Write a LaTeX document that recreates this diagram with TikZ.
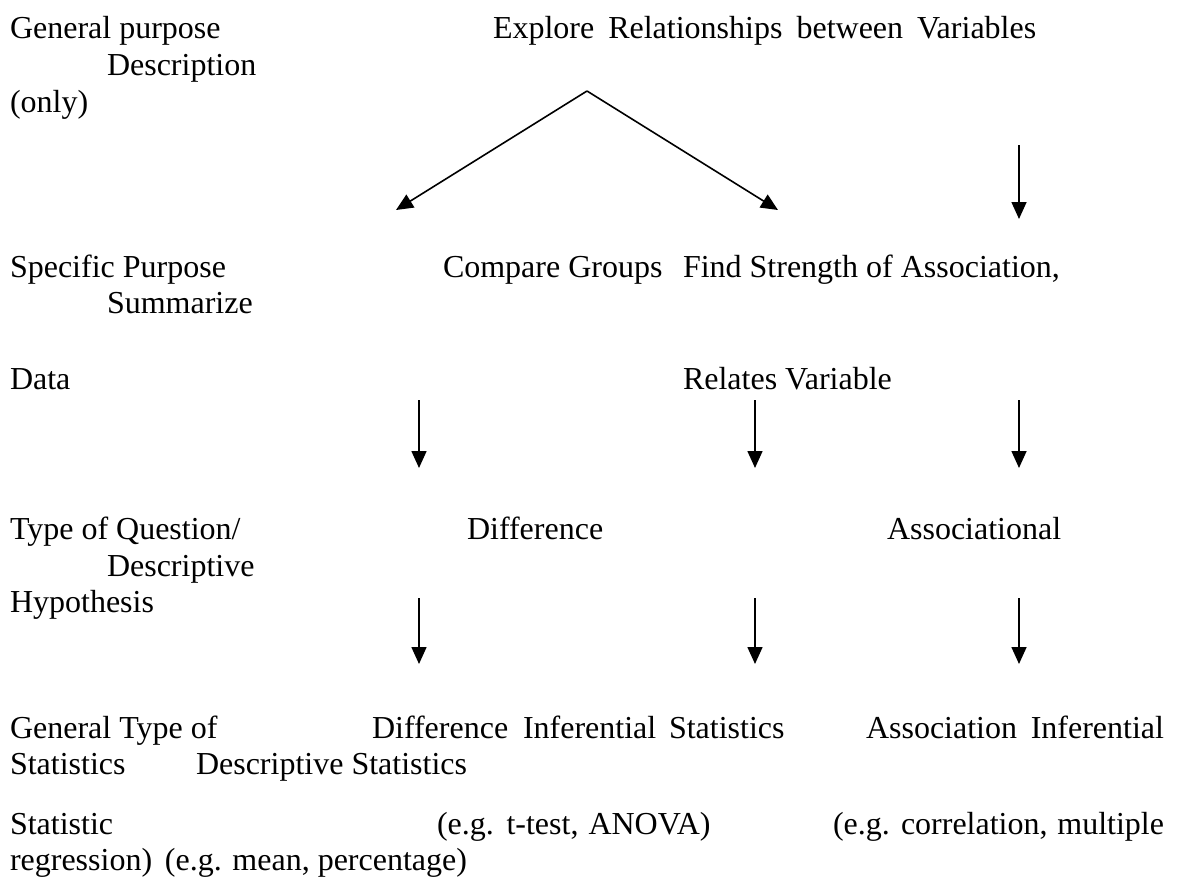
\documentclass[tikz,border=0pt]{standalone}
\usepackage{fontspec}
\setmainfont{Liberation Serif}
\usetikzlibrary{arrows.meta}
\begin{document}
\begin{tikzpicture}[x=1pt,y=-1pt,
  txt/.style={anchor=base west,inner sep=0pt,outer sep=0pt,font=\fontsize{32}{38}\selectfont},
  txe/.style={txt,anchor=base east},
  arr/.style={line width=1.6pt,-{Triangle[width=15pt,length=17pt]}}]
\fill[white] (0,0) rectangle (1178,883);
\useasboundingbox (0,0) rectangle (1178,883);
% row 1
\node[txt] (gp) at (10,39) {General purpose};
\node[txt] (ex) at (493,39) {Explore\hspace{14pt}Relationships\hspace{14pt}between\hspace{14pt}Variables};
\node[txt] (desc) at (107,75) {Description};
\node[txt] (only) at (10,112) {(only)};
% V arrows
\coordinate (apex) at (587,91);
\coordinate (lt) at (396,210);
\coordinate (rt) at (778,210);
\draw[arr] (apex) -- (lt);
\draw[arr] (apex) -- (rt);
\coordinate (r1s) at (1019,145);
\coordinate (r1e) at (1019,219);
\draw[arr] (r1s) -- (r1e);
% row 2
\node[txt] (sp) at (10,277) {Specific Purpose};
\node[txt] (cg) at (443,277) {Compare Groups};
\node[txt] (fs) at (683,277) {Find Strength of Association,};
\node[txt] (sum) at (107,313) {Summarize};
\node[txt] (data) at (10,389) {Data};
\node[txt] (rv) at (683,389) {Relates Variable};
% arrows 2
\coordinate (a1s) at (419,400);
\coordinate (a1e) at (419,468);
\coordinate (a2s) at (755,400);
\coordinate (a2e) at (755,468);
\coordinate (a3s) at (1019,400);
\coordinate (a3e) at (1019,468);
\draw[arr] (a1s) -- (a1e);
\draw[arr] (a2s) -- (a2e);
\draw[arr] (a3s) -- (a3e);
% row 3
\node[txt] (tq) at (10,539) {Type of Question/};
\node[txt] (diff) at (467,539) {Difference};
\node[txt] (assoc) at (887,539) {Associational};
\node[txt] (desc2) at (107,576) {Descriptive};
\node[txt] (hyp) at (10,612) {Hypothesis};
% arrows 3
\coordinate (b1s) at (419,598);
\coordinate (b1e) at (419,664);
\coordinate (b2s) at (755,598);
\coordinate (b2e) at (755,664);
\coordinate (b3s) at (1019,598);
\coordinate (b3e) at (1019,664);
\draw[arr] (b1s) -- (b1e);
\draw[arr] (b2s) -- (b2e);
\draw[arr] (b3s) -- (b3e);
% row 4
\node[txt] (gt) at (10,738) {General Type of};
\node[txt] (dif2) at (372,738) {Difference};
\node[txt] (inf1) at (523,738) {Inferential};
\node[txt] (st1) at (669,738) {Statistics};
\node[txt] (asn) at (866,738) {Association};
\node[txe] (inf2) at (1164,738) {Inferential};
\node[txt] (stat) at (10,774) {Statistics};
\node[txt] (ds) at (196,774) {Descriptive Statistics};
% row 5
\node[txt] (sta) at (10,834) {Statistic};
\node[txt] (eg1) at (437,834) {(e.g.\hspace{2pt} t-test,\hspace{2pt} ANOVA)};
\node[txt] (eg2) at (833,834) {(e.g.};
\node[txt] (cor) at (901,834) {correlation,};
\node[txe] (mul) at (1164,834) {multiple};
\node[txt] (reg) at (10,870) {regression)};
\node[txe] (eg3) at (467,870) {(e.g. mean, percentage)};
\end{tikzpicture}
\end{document}
